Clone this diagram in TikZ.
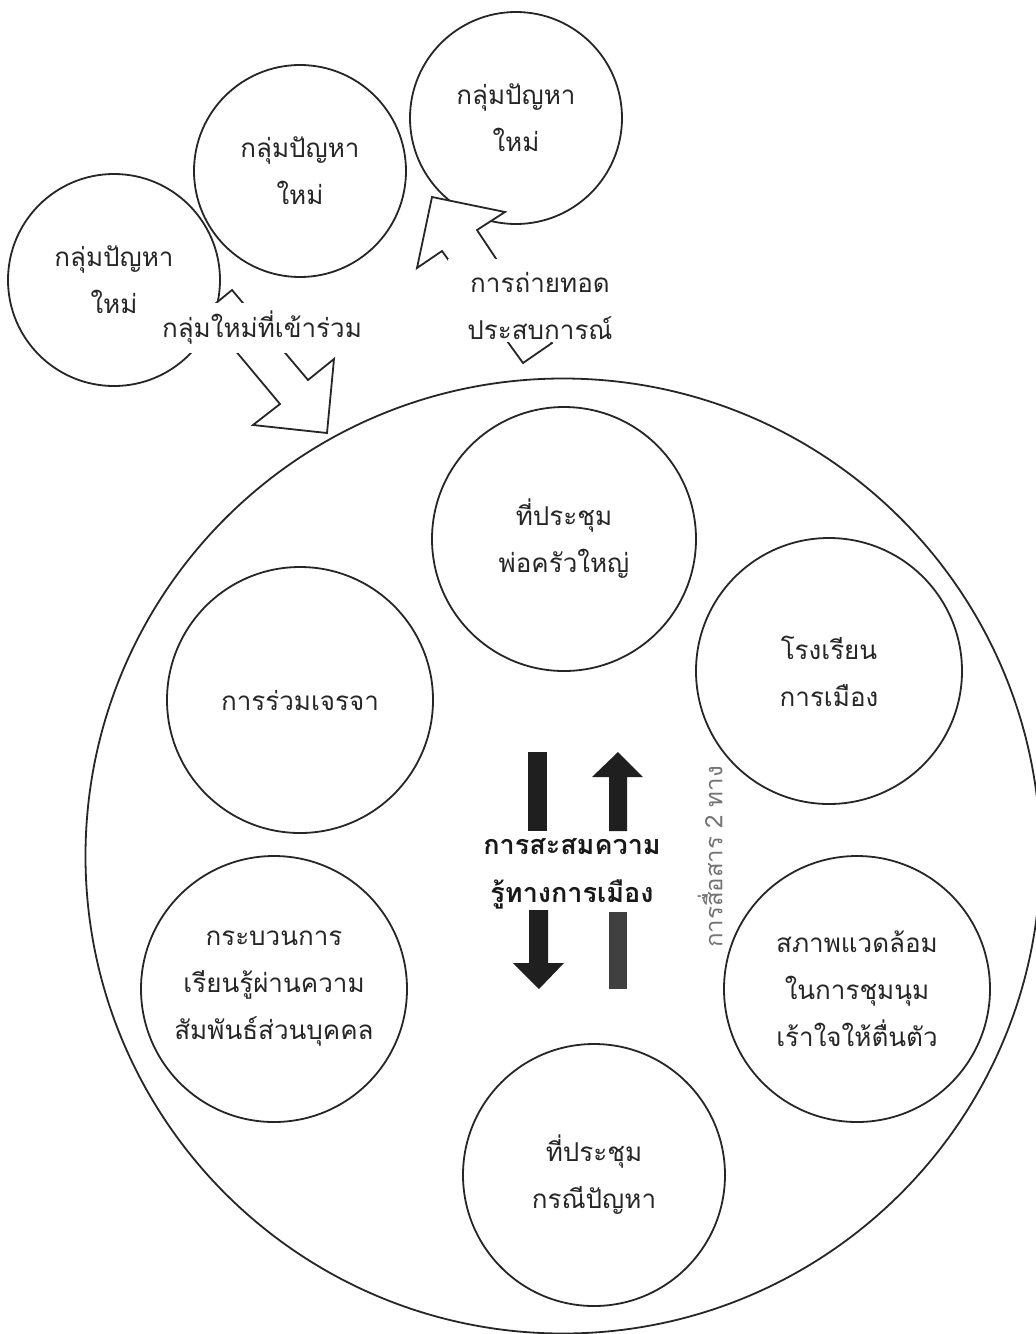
\documentclass[tikz,border=0pt]{standalone}
\usepackage{fontspec}
\newfontfamily\thaifont[Script=Thai]{Loma}
\tikzset{
  bubble/.style={circle, draw=black!85, line width=1.8pt, inner sep=0pt, align=center, text=black!85, font=\thaifont\fontsize{26}{47}\selectfont},
  blockarrow/.style={draw=black!85, fill=white, line width=1.8pt, line join=miter},
  solidarrow/.style={fill=black!88, draw=none},
  lbl/.style={text=black!85, align=center, inner sep=0pt, font=\thaifont\fontsize{26}{47}\selectfont},
}
\begin{document}
\begin{tikzpicture}[x=1pt,y=-1pt]
\useasboundingbox (0,0) rectangle (1036,1334);
\fill[white] (0,0) rectangle (1036,1334);
% outer circle
\node[bubble, minimum size=955pt] (outer) at (563,856) {};
% inner circles
\node[bubble, minimum size=264pt] (c1) at (564,539) {ที่ประชุม\\พ่อครัวใหญ่};
\node[bubble, minimum size=266pt] (c2) at (829,671) {โรงเรียน\\การเมือง};
\node[bubble, minimum size=266pt] (c3) at (300,700) {การร่วมเจรจา};
\node[bubble, minimum size=266pt] (c4) at (274,989) {กระบวนการ\\เรียนรู้ผ่านความ\\สัมพันธ์ส่วนบุคคล};
\node[bubble, minimum size=266pt] (c5) at (857,989) {สภาพแวดล้อม\\ในการชุมนุม\\เร้าใจให้ตื่นตัว};
\node[bubble, minimum size=262pt] (c6) at (594,1175) {ที่ประชุม\\กรณีปัญหา};
% top circles
\node[bubble, minimum size=212pt] (g1) at (114,280) {กลุ่มปัญหา\\ใหม่};
\node[bubble, minimum size=212pt] (g2) at (300,171) {กลุ่มปัญหา\\ใหม่};
\node[bubble, minimum size=212pt] (g3) at (516,118) {กลุ่มปัญหา\\ใหม่};
% block arrows
\filldraw[blockarrow] (432,197) -- (505,212) -- (477,230) -- (552,343) -- (523,363) -- (442,251) -- (417,268) -- cycle;
\filldraw[blockarrow] (232,290) -- (204,313) -- (280,404) -- (253,425) -- (327,433) -- (334,359) -- (308,380) -- cycle;
% labels on arrows
\fill[white] (155,303) rectangle (372,353);
\node[lbl] (newgrp) at (262,328) {กลุ่มใหม่ที่เข้าร่วม};
\fill[white] (448,259) rectangle (632,342);
\node[lbl] (transfer) at (540,306) {การถ่ายทอด\\ประสบการณ์};
% central arrows
\fill[solidarrow] (528,752) rectangle (547,831);
\fill[solidarrow] (618,752) -- (643,777) -- (627,777) -- (627,831) -- (609,831) -- (609,777) -- (592,777) -- cycle;
\node[text=black!90, align=center, inner sep=0pt, font=\thaifont\bfseries\fontsize{27}{48}\selectfont] (accum) at (572,874) {การสะสมความ\\รู้ทางการเมือง};
\fill[solidarrow] (529,910) -- (548,910) -- (548,963) -- (564,963) -- (539,989) -- (513,963) -- (529,963) -- cycle;
\fill[black!75] (609,912) rectangle (627,989);
\node[rotate=90, text=black!55, inner sep=0pt, font=\thaifont\fontsize{24}{24}\selectfont] (twoway) at (710,857) {การสื่อสาร 2 ทาง};
\end{tikzpicture}
\end{document}
